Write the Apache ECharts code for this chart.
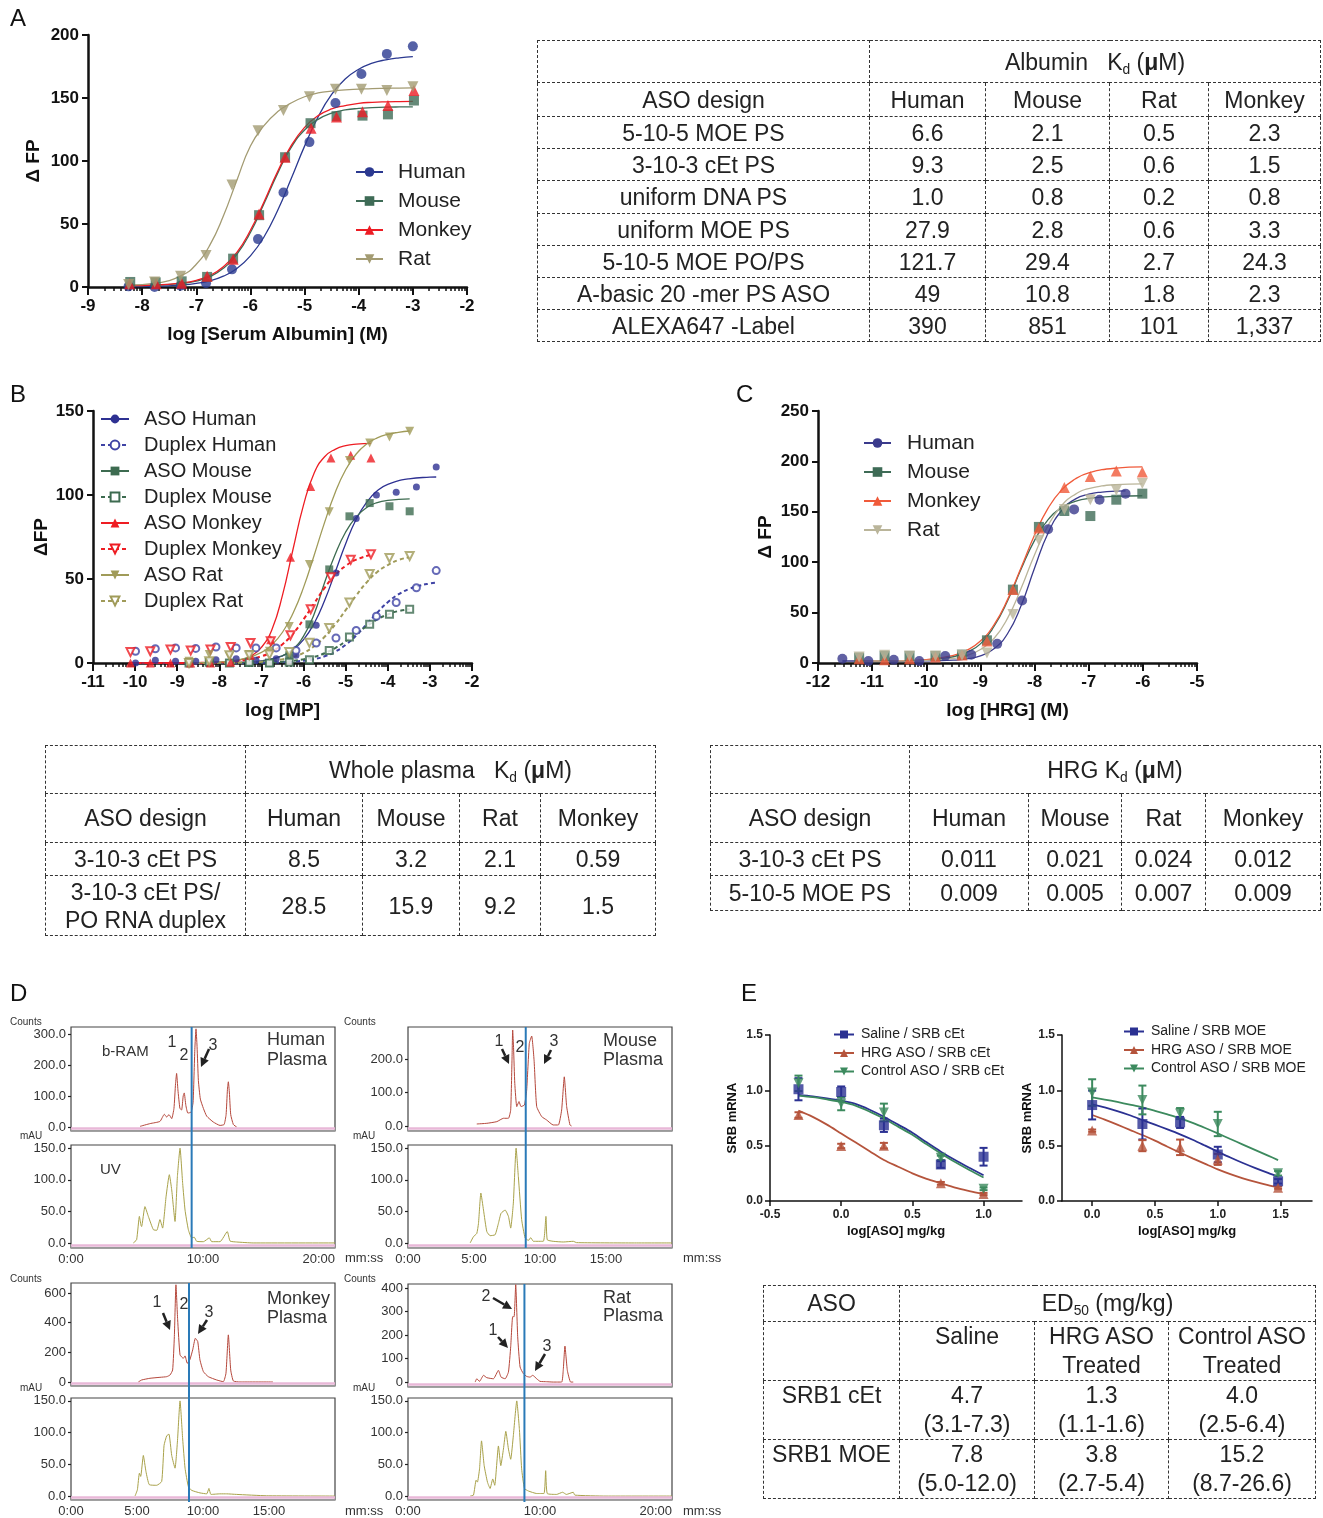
<!DOCTYPE html>
<html><head><meta charset="utf-8">
<script src="https://cdn.jsdelivr.net/npm/echarts@6/dist/echarts.min.js"></script>
<style>
html,body{margin:0;padding:0;background:#fff;}
#chart{position:absolute;left:0;top:0;width:1323px;height:1518px;}
table.t{position:absolute;border-collapse:collapse;table-layout:fixed;font-family:'Liberation Sans',Arial,Helvetica,sans-serif;font-size:23px;color:#222;}
table.t td{border:1px dashed #333;text-align:center;vertical-align:middle;padding:0;line-height:28px;white-space:nowrap;}
table.t sub{font-size:0.6em;vertical-align:-0.3em;line-height:0;}
table.e td{line-height:29px;}
</style></head><body>
<div id="chart"></div>
<div id="tables"></div>
<script>
const FONT = "'Liberation Sans', Arial, Helvetica, sans-serif";

// ================= Panel A : serum albumin =================
const A_curveX = [-8.25,-7.75,-7.25,-7.0,-6.75,-6.5,-6.25,-6.0,-5.75,-5.5,-5.25,-5.0,-4.75,-4.5,-4.25,-4.0,-3.75,-3.5,-3.25,-3.0];
const A_humanCurve  = [0.2,0.5,1.6,2.8,4.9,8.6,14.7,24.7,39.7,60.5,85.7,111.8,135,152.8,165,172.8,177.6,180.3,181.9,182.8];
const A_mouseCurve  = [1.1,1.5,2.9,4.7,8.2,14.8,26,43.3,66,90,110.6,124.6,133,138,140.5,141.7,142.3,142.7,142.9,143];
const A_monkeyCurve = [1.2,1.6,3.3,5.3,9.1,16.1,27.4,45,67.5,91.4,112,126.7,136,141.3,144,145.8,146.6,147,147.2,147.3];
const A_ratCurve    = [1.5,3.0,9.6,18.1,33.2,56.3,84.8,111.9,128,139,146,151,154,155.5,156.5,157,157.5,157.7,157.9,158];
const A_humanPts  = [[-8.25,0.5],[-7.77,0],[-7.29,1],[-6.82,3],[-6.34,14],[-5.86,38],[-5.39,75],[-4.91,115],[-4.43,146],[-3.95,169],[-3.48,185],[-3.0,191]];
const A_mousePts  = [[-8.22,4],[-7.75,3.7],[-7.27,4.5],[-6.8,8],[-6.32,22.5],[-5.84,57],[-5.36,103],[-4.89,130],[-4.41,135.6],[-3.93,136],[-3.46,137],[-2.98,148]];
const A_monkeyPts = [[-8.23,2.6],[-7.74,2.6],[-7.27,3],[-6.8,8.5],[-6.32,22],[-5.84,58],[-5.36,103],[-4.88,126],[-4.41,135],[-3.93,139],[-3.46,144],[-2.98,156]];
const A_ratPts    = [[-8.25,2],[-7.77,4],[-7.29,8.5],[-6.82,25],[-6.34,81],[-5.86,124],[-5.39,140],[-4.91,151],[-4.43,157],[-3.95,157],[-3.48,156],[-3.0,159]];

// ================= Panel B : whole plasma =================
const B_asoHumanCurve  = [[-10,0],[-9,0],[-8,0.1],[-7.5,0.35],[-7,1.2],[-6.5,4.3],[-6.25,7.8],[-6,13.9],[-5.75,23.5],[-5.5,37.2],[-5.25,54],[-5,71],[-4.75,85.6],[-4.5,95.8],[-4.25,102.5],[-4,106.3],[-3.5,109.6],[-3,110.6],[-2.85,110.7]];
const B_dupHumanCurve  = [[-10,0],[-8,0],[-7,0.14],[-6.5,0.43],[-6,1.34],[-5.75,2.3],[-5.5,4],[-5.25,6.7],[-5,10.8],[-4.75,16.3],[-4.5,23.1],[-4.25,30],[-4,36.2],[-3.75,40.8],[-3.5,44],[-3.25,46],[-3,47.3],[-2.85,47.8]];
const B_asoMouseCurve  = [[-8.72,0],[-8,0.05],[-7.5,0.22],[-7,1],[-6.75,2.1],[-6.5,4.3],[-6.25,8.4],[-6,16],[-5.75,29],[-5.5,47.9],[-5.25,64.6],[-5,78],[-4.75,87],[-4.5,92.6],[-4.25,95.5],[-4,96.8],[-3.48,97.7]];
const B_dupMouseCurve  = [[-8.72,0],[-8,0.03],[-7,0.26],[-6.5,0.77],[-6,2.2],[-5.75,3.6],[-5.5,5.8],[-5.25,8.9],[-5,12.9],[-4.75,17.4],[-4.5,21.9],[-4.25,25.9],[-4,28.9],[-3.75,30.9],[-3.48,32]];
const B_asoMonkeyCurve = [[-10.11,0],[-9,0],[-8,0.33],[-7.5,1.86],[-7.25,4.2],[-7,9.3],[-6.75,20],[-6.5,40.4],[-6.25,67.7],[-6,94.1],[-5.75,113],[-5.5,122.8],[-5.25,127.2],[-5,129.4],[-4.75,130.3],[-4.4,130.7]];
const B_dupMonkeyCurve = [[-10.11,0],[-9,0.02],[-8,0.42],[-7.5,1.3],[-7,4],[-6.75,6.8],[-6.5,11.2],[-6.25,17.5],[-6,26],[-5.75,35.4],[-5.5,44.7],[-5.25,52.3],[-5,57.8],[-4.75,61.5],[-4.4,64.4]];
const B_asoRatCurve    = [[-8.72,0.13],[-8,0.66],[-7.5,2.1],[-7,6.3],[-6.75,10.9],[-6.5,18.3],[-6.25,29.6],[-6,45],[-5.75,64],[-5.5,83.7],[-5.25,101.4],[-5,115],[-4.75,124.4],[-4.5,130.4],[-4.25,134],[-4,136.1],[-3.75,137.3],[-3.48,138.1]];
const B_dupRatCurve    = [[-8.72,0.02],[-8,0.09],[-7.5,0.26],[-7,0.77],[-6.5,2.2],[-6.25,3.7],[-6,6],[-5.75,10],[-5.5,15.6],[-5.25,22.9],[-5,31.5],[-4.75,40.2],[-4.5,48],[-4.25,54.2],[-4,58.3],[-3.75,61.3],[-3.48,63]];
const B_asoHumanPts  = [[-9.99,0],[-9.52,1.6],[-9.04,1],[-8.56,1],[-8.08,2],[-7.6,2.6],[-7.13,1.6],[-6.65,2.6],[-6.18,4.6],[-5.7,22.4],[-5.23,53.6],[-4.75,86],[-4.27,100],[-3.8,101.6],[-3.32,104.8],[-2.85,116.7]];
const B_dupHumanPts  = [[-9.99,7],[-9.52,8.5],[-9.04,9],[-8.56,8.7],[-8.08,9.5],[-7.6,9],[-7.13,9],[-6.65,9],[-6.18,7.5],[-5.7,11.9],[-5.23,14.9],[-4.75,19.4],[-4.27,27.8],[-3.8,36],[-3.32,44.8],[-2.85,55]];
const B_asoMousePts  = [[-8.72,0.5],[-8.24,0.5],[-7.76,0],[-7.29,0],[-6.81,0],[-6.34,4.6],[-5.86,23],[-5.39,55.7],[-4.91,87.3],[-4.43,95.2],[-3.96,93.3],[-3.48,90.3]];
const B_dupMousePts  = [[-8.72,0],[-8.24,0.5],[-7.76,0],[-7.29,0.5],[-6.81,0],[-6.34,0.5],[-5.86,2],[-5.39,7.5],[-4.91,15.5],[-4.43,23],[-3.96,29],[-3.48,32]];
const B_asoMonkeyPts = [[-10.11,0],[-9.64,0],[-9.16,0],[-8.68,0],[-8.21,0],[-7.73,0.5],[-7.26,4.6],[-6.78,13.9],[-6.31,63],[-5.83,105],[-5.35,122],[-4.88,123.6],[-4.4,122]];
const B_dupMonkeyPts = [[-10.11,6.5],[-9.64,7],[-9.16,8],[-8.68,7.5],[-8.21,8],[-7.73,9.5],[-7.26,11.9],[-6.78,13],[-6.31,16.5],[-5.83,32],[-5.35,51],[-4.88,61.5],[-4.4,64.7]];
const B_asoRatPts    = [[-8.72,1],[-8.24,5],[-7.76,4],[-7.29,5],[-6.81,7],[-6.34,21.8],[-5.86,58.7],[-5.39,90],[-4.91,120.6],[-4.43,131],[-3.96,134.5],[-3.48,138]];
const B_dupRatPts    = [[-8.72,0],[-8.24,1],[-7.76,4.6],[-7.29,4.6],[-6.81,5],[-6.34,6.5],[-5.86,12],[-5.39,20.8],[-4.91,36],[-4.43,53],[-3.96,62.5],[-3.48,63.7]];

// ================= Panel C : HRG =================
const C_humanCurve  = [[-11.55,2],[-10.5,2],[-10,2.1],[-9.5,2.8],[-9.25,4],[-9,7.1],[-8.75,14.1],[-8.5,29],[-8.25,56.7],[-8,94.3],[-7.75,129],[-7.5,151.3],[-7.25,162.6],[-7,167.5],[-6.75,169.6],[-6.5,170.5],[-6.32,170.8]];
const C_mouseCurve  = [[-11.24,2],[-10.5,2.2],[-10,2.9],[-9.5,6.2],[-9.25,10.8],[-9,19],[-8.75,36.2],[-8.5,61.6],[-8.25,92.9],[-8,121.7],[-7.75,142.2],[-7.5,154.1],[-7.25,160.3],[-7,163.3],[-6.5,165.4],[-6.01,165.9]];
const C_monkeyCurve = [[-11.24,2],[-10.5,2.35],[-10,3.4],[-9.5,7.6],[-9.25,12.7],[-9,21.8],[-8.75,37.9],[-8.5,62.9],[-8.25,94.5],[-8,126.9],[-7.75,153.6],[-7.5,171.8],[-7.25,182.5],[-7,188.6],[-6.5,193.3],[-6.01,194.5]];
const C_ratCurve    = [[-11.24,2],[-10.5,2.1],[-10,2.5],[-9.5,4.5],[-9.25,7.4],[-9,13.4],[-8.75,24.3],[-8.5,44.3],[-8.25,73.8],[-8,107.5],[-7.75,136.5],[-7.5,156.2],[-7.25,167.3],[-7,172.9],[-6.5,176.9],[-6.01,177.8]];
const C_humanPts  = [[-11.55,4.3],[-11.07,2],[-10.6,3.3],[-10.13,2],[-9.65,7],[-9.17,8.3],[-8.69,19],[-8.23,62],[-7.75,132.6],[-7.27,152.4],[-6.8,162],[-6.32,168]];
const C_mousePts  = [[-11.24,5.3],[-10.77,7],[-10.31,7],[-9.83,7],[-9.34,8.3],[-8.88,22.5],[-8.4,72.8],[-7.92,135],[-7.45,150.8],[-6.97,145.8],[-6.49,162],[-6.01,168]];
const C_monkeyPts = [[-11.24,4.3],[-10.77,3.3],[-10.31,4.3],[-9.83,6],[-9.34,8],[-8.88,21.8],[-8.4,73],[-7.92,134],[-7.45,174],[-6.97,185],[-6.49,190.5],[-6.01,189.5]];
const C_ratPts    = [[-11.24,6],[-10.77,7.6],[-10.31,7],[-9.83,7],[-9.34,7.6],[-8.88,10],[-8.4,48],[-7.92,121.7],[-7.45,152.4],[-6.97,162],[-6.49,171.3],[-6.01,178]];

// ================= Panel D : chromatograms (time min, signal) =================
const D_humanCounts = [[5.23,2],[6.0,11],[6.74,18],[7.07,41],[7.25,32],[7.42,40],[7.63,27],[7.8,60],[7.92,140],[8.0,173],[8.1,120],[8.25,60],[8.38,55],[8.5,100],[8.58,110],[8.7,70],[8.85,45],[9.1,48],[9.25,80],[9.38,250],[9.47,317],[9.55,260],[9.65,150],[9.8,90],[10.03,60],[10.28,35],[10.78,16],[11.29,5],[11.6,8],[11.75,40],[11.85,120],[11.92,146],[12.0,110],[12.1,40],[12.3,8],[12.55,0]];
const D_humanUV = [[4.72,0],[4.97,5],[5.18,42],[5.3,28],[5.35,26],[5.6,57.5],[5.86,42],[6.24,21],[6.5,20],[6.74,37],[6.94,23.5],[7.2,73],[7.45,108],[7.63,84],[7.88,34],[8.06,105],[8.26,150],[8.46,94],[8.64,52],[8.89,21],[9.14,8],[9.34,9],[9.52,2.6],[10.03,2],[10.48,8],[10.66,2],[11.29,2],[11.84,18],[12.05,3],[12.55,1.5],[13.8,0],[20,0]];
const D_mouseCounts = [[5.21,6],[5.97,8],[6.73,13],[7.23,23],[7.61,23],[7.78,48],[7.88,200],[7.93,287],[8.0,230],[8.09,127],[8.24,58],[8.41,73],[8.56,58],[8.82,63],[8.99,107],[9.19,247],[9.37,269],[9.55,197],[9.75,58],[10.13,28],[10.5,18],[11.0,3],[11.39,3],[11.64,48],[11.84,147],[12.02,58],[12.27,3],[12.39,0]];
const D_mouseUV = [[4.71,0],[4.96,10],[5.21,15],[5.34,31],[5.52,79],[5.72,52],[5.97,18],[6.22,11.5],[6.6,13],[6.85,31],[7.05,47],[7.36,52],[7.61,42],[7.78,23.5],[7.98,63],[8.19,150],[8.36,105],[8.61,37],[8.87,8],[9.12,4],[9.3,8.4],[9.5,2.6],[10.25,2.6],[10.45,42],[10.55,5],[11.0,2.6],[11.76,1.5],[12.52,2.6],[12.77,0.5],[17.05,0],[20,0]];
const D_monkeyCounts = [[5.1,0],[5.35,13.5],[5.98,25],[6.74,31.6],[7.25,36],[7.5,47],[7.7,81],[7.83,307],[7.95,656],[8.08,420],[8.26,183],[8.51,160],[8.64,176],[8.81,126],[9.0,149],[9.22,217],[9.42,295],[9.6,273],[9.77,149],[10.03,70],[10.4,36],[11.04,13.5],[11.54,2],[11.74,59],[11.92,318],[12.1,81],[12.3,7],[12.8,0],[15.3,0]];
const D_monkeyUV = [[4.85,0],[5.03,10],[5.18,36],[5.28,31],[5.48,64],[5.68,38.5],[5.93,18],[6.49,17],[6.87,23],[7.05,80],[7.25,95],[7.42,97.6],[7.63,64],[7.88,44],[8.06,85],[8.26,150],[8.46,90],[8.64,44],[8.89,15],[9.14,9],[9.77,5],[10.28,3.5],[10.45,12],[10.6,2.6],[11.29,3.5],[11.79,3.5],[12.55,2.6],[14.8,0.5],[20,0]];
const D_ratCounts = [[5.09,0],[5.21,14],[5.42,3],[5.72,28.6],[5.97,18.6],[6.47,14],[6.85,50],[7.05,21],[7.36,14],[7.61,43],[7.78,150],[7.93,278],[8.04,278],[8.16,414],[8.31,193],[8.49,64],[8.74,36],[8.99,24],[9.24,21],[9.45,28.6],[9.75,14],[10.0,3],[10.5,1.5],[11.0,0],[11.64,0],[11.76,50],[11.89,153],[12.07,50],[12.32,0],[12.52,0]];
const D_ratUV = [[4.71,0],[4.96,1.5],[5.16,25],[5.26,22],[5.42,43],[5.57,87],[5.77,48],[6.02,22],[6.22,12],[6.42,27],[6.57,17],[6.85,79],[7.03,48],[7.23,74],[7.41,102],[7.61,74],[7.78,58],[7.98,95],[8.24,150],[8.44,105],[8.61,43],[8.82,12],[9.12,8],[9.75,4],[10.3,4],[10.43,40],[10.55,4],[11.26,2.6],[11.71,6],[12.0,2.6],[12.52,6],[12.64,1.5],[15.0,0],[20,0]];
const D_blueLineTime = [9.14, 8.92, 8.94, 8.82]; // human, mouse, monkey, rat
const D_countTicks = [[0,100,200,300],[0,100,200],[0,200,400,600],[0,100,200,300,400]];
const D_uvTicks = [0,50,100,150];
const D_timeLabels = [[0,10,20],[0,5,10,15],[0,5,10,15],[0,10,20]];

// ================= Panel E : SRB mRNA =================
const E1_x = [-0.3,0,0.3,0.7,1.0];
const E1_saline = [1.01,0.985,0.684,0.33,0.40],  E1_salineErr = [0.1,0.05,0.06,0.03,0.08];
const E1_hrg = [0.777,0.497,0.5,0.16,0.063],     E1_hrgErr = [0.025,0.02,0.025,0.012,0.01];
const E1_ctrl = [1.063,0.88,0.80,0.39,0.11],     E1_ctrlErr = [0.07,0.06,0.08,0.02,0.012];
const E1_curveX = [-0.3,-0.2,-0.1,0,0.1,0.2,0.3,0.4,0.5,0.6,0.7,0.8,0.9,1.0];
const E1_salineCurve = [0.958,0.945,0.928,0.907,0.877,0.825,0.762,0.69,0.617,0.53,0.446,0.37,0.30,0.232];
const E1_ctrlCurve = [0.952,0.938,0.918,0.895,0.862,0.808,0.745,0.672,0.598,0.512,0.43,0.352,0.28,0.212];
const E1_hrgCurve = [0.816,0.76,0.69,0.61,0.53,0.45,0.37,0.31,0.25,0.20,0.16,0.12,0.09,0.063];
const E2_x = [0,0.4,0.7,1.0,1.48];
const E2_saline = [0.867,0.696,0.71,0.42,0.178], E2_salineErr = [0.13,0.14,0.05,0.07,0.02];
const E2_hrg = [0.636,0.5,0.485,0.376,0.12],     E2_hrgErr = [0.01,0.05,0.07,0.05,0.01];
const E2_ctrl = [0.98,0.913,0.79,0.696,0.25],    E2_ctrlErr = [0.12,0.13,0.05,0.11,0.02];
const E2_curveX = [0,0.1,0.2,0.3,0.4,0.5,0.6,0.7,0.8,0.9,1.0,1.1,1.2,1.3,1.4,1.48];
const E2_salineCurve = [0.873,0.845,0.812,0.775,0.732,0.69,0.647,0.602,0.553,0.5,0.446,0.393,0.343,0.297,0.254,0.222];
const E2_hrgCurve = [0.777,0.735,0.69,0.643,0.596,0.545,0.49,0.437,0.385,0.335,0.286,0.243,0.205,0.172,0.143,0.122];
const E2_ctrlCurve = [0.937,0.917,0.895,0.871,0.846,0.815,0.782,0.747,0.706,0.66,0.611,0.56,0.51,0.46,0.41,0.37];

// ================= Tables =================
const speciesCols = ['Human','Mouse','Rat','Monkey'];
const albuminDesigns = ['5-10-5 MOE PS','3-10-3 cEt PS','uniform DNA PS','uniform MOE PS','5-10-5 MOE PO/PS','A-basic 20 -mer PS ASO','ALEXA647 -Label'];
const albuminKd = [['6.6','2.1','0.5','2.3'],['9.3','2.5','0.6','1.5'],['1.0','0.8','0.2','0.8'],['27.9','2.8','0.6','3.3'],['121.7','29.4','2.7','24.3'],['49','10.8','1.8','2.3'],['390','851','101','1,337']];
const plasmaDesigns = ['3-10-3 cEt PS','3-10-3 cEt PS/<br>PO RNA duplex'];
const plasmaKd = [['8.5','3.2','2.1','0.59'],['28.5','15.9','9.2','1.5']];
const hrgDesigns = ['3-10-3 cEt PS','5-10-5 MOE PS'];
const hrgKd = [['0.011','0.021','0.024','0.012'],['0.009','0.005','0.007','0.009']];
const ed50Groups = ['Saline','HRG ASO<br>Treated','Control ASO<br>Treated'];
const ed50Rows = ['SRB1 cEt','SRB1 MOE'];
const ed50Vals = [[['4.7','(3.1-7.3)'],['1.3','(1.1-1.6)'],['4.0','(2.5-6.4)']],[['7.8','(5.0-12.0)'],['3.8','(2.7-5.4)'],['15.2','(8.7-26.6)']]];

// ---------- build tables ----------
function kdTable(left, top, colW, rowH, title, designs, vals, cls) {
  let h = `<table class="t ${cls||''}" style="left:${left}px;top:${top}px;width:${colW.reduce((a,b)=>a+b,0)}px"><colgroup>`;
  colW.forEach(w => h += `<col style="width:${w}px">`);
  h += `</colgroup><tr style="height:${rowH[0]}px"><td></td><td colspan="4">${title}</td></tr>`;
  h += `<tr style="height:${rowH[1]}px"><td>ASO design</td>` + speciesCols.map(s=>`<td>${s}</td>`).join('') + `</tr>`;
  designs.forEach((d,i) => { h += `<tr style="height:${rowH[i+2]}px"><td>${d}</td>` + vals[i].map(v=>`<td>${v}</td>`).join('') + `</tr>`; });
  return h + '</table>';
}
const KD = 'K<sub>d</sub> (<b>&mu;</b>M)';
let tablesHTML = '';
tablesHTML += kdTable(537, 40, [332,116,124,99,112], [42,34,32,32,33,32,32,32,32], 'Albumin&nbsp;&nbsp; ' + KD, albuminDesigns, albuminKd);
tablesHTML += kdTable(45, 745, [200,117,97,81,115], [48,49,33,60], 'Whole plasma&nbsp;&nbsp; ' + KD, plasmaDesigns, plasmaKd);
tablesHTML += kdTable(710, 745, [199,119,93,84,115], [48,49,33,35], 'HRG ' + KD, hrgDesigns, hrgKd);
{
  let h = `<table class="t e" style="left:763px;top:1285px;width:552px"><colgroup><col style="width:136px"><col style="width:135px"><col style="width:134px"><col style="width:147px"></colgroup>`;
  h += `<tr style="height:36px"><td>ASO</td><td colspan="3">ED<sub>50</sub> (mg/kg)</td></tr>`;
  h += `<tr style="height:59px"><td style="vertical-align:top"></td>` + ed50Groups.map(g=>`<td style="vertical-align:top">${g}</td>`).join('') + `</tr>`;
  ed50Rows.forEach((r,i) => {
    h += `<tr style="height:${i===0?58:59}px"><td style="vertical-align:top">${r}</td>` + ed50Vals[i].map(v=>`<td style="vertical-align:top">${v[0]}<br>${v[1]}</td>`).join('') + `</tr>`;
  });
  tablesHTML += h + '</table>';
}
document.getElementById('tables').innerHTML = tablesHTML;

// ---------- chart building ----------
const grids=[], xAxes=[], yAxes=[], series=[], legends=[], graphics=[];
const addGrid = g => { grids.push(g); return grids.length-1; };
const addX = o => { xAxes.push(o); return xAxes.length-1; };
const addY = o => { yAxes.push(o); return yAxes.length-1; };
const zip = (xs, ys) => xs.map((x,i)=>[x, ys[i]]);
const boldLbl = (size) => ({fontFamily:FONT, fontWeight:'bold', fontSize:size, color:'#111'});

function logPanel(c) {
  const gi = addGrid({left:c.left, top:c.top, width:c.width, height:c.height});
  const xi = addX({gridIndex:gi, type:'value', min:c.xmin, max:c.xmax, interval:1, position:'bottom',
    axisLine:{show:true, onZero:false, lineStyle:{color:'#111', width:2.5}},
    axisTick:{show:true, length:8, lineStyle:{color:'#111', width:2}},
    axisLabel:Object.assign(boldLbl(17), {margin:11}), splitLine:{show:false},
    name:c.xname, nameLocation:'middle', nameGap:38, nameTextStyle:boldLbl(19)});
  const minor = [];
  for (let d=c.xmin; d<c.xmax; d++) for (let k=2;k<=9;k++) minor.push(d+Math.log10(k));
  addX({gridIndex:gi, type:'value', min:c.xmin, max:c.xmax, position:'bottom', axisLine:{show:false},
    axisLabel:{show:false}, splitLine:{show:false},
    axisTick:{show:true, length:4, customValues:minor, lineStyle:{color:'#111', width:1.5}}});
  const yi = addY({gridIndex:gi, type:'value', min:0, max:c.ymax, interval:c.yint,
    axisLine:{show:true, onZero:false, lineStyle:{color:'#111', width:2.5}},
    axisTick:{show:true, length:6, lineStyle:{color:'#111', width:2}},
    axisLabel:Object.assign(boldLbl(17), {margin:9}), splitLine:{show:false},
    name:c.yname, nameLocation:'middle', nameGap:c.yGap, nameTextStyle:boldLbl(19)});
  return {xi, yi};
}
function fit(p, s) {
  series.push({type:'line', name:s.name, xAxisIndex:p.xi, yAxisIndex:p.yi, data:s.curve, showSymbol:false,
    symbol:s.symbol, symbolSize:s.size, symbolRotate:s.rot||0, smooth:0.5, silent:true,
    lineStyle:{color:s.color, width:s.lw||1.3, type:s.dash?[4,3]:'solid'}, itemStyle:{color:s.color}, z:2});
  series.push({type:'scatter', name:s.name+' (data)', xAxisIndex:p.xi, yAxisIndex:p.yi, data:s.pts,
    symbol:s.symbol, symbolSize:s.size, symbolRotate:s.rot||0, itemStyle:{color:s.color}, z:3, silent:true});
}
function legend(names, left, top, fs, lh, gap, iw, ih, pad) {
  legends.push({data:names, orient:'vertical', left, top, padding:0, itemGap:gap, itemWidth:iw, itemHeight:ih,
    selectedMode:false, textStyle:{fontFamily:FONT, fontSize:fs, lineHeight:lh, color:'#222', padding:[0,0,0,pad]}});
}

// Panel A
const pA = logPanel({left:88, top:35, width:379, height:252, xmin:-9, xmax:-2, ymax:200, yint:50, xname:'log [Serum Albumin] (M)', yname:'Δ FP', yGap:45});
fit(pA, {name:'Human', color:'#2b3990', symbol:'circle', size:10, curve:zip(A_curveX,A_humanCurve), pts:A_humanPts});
fit(pA, {name:'Mouse', color:'#3e6b56', symbol:'rect', size:10, curve:zip(A_curveX,A_mouseCurve), pts:A_mousePts});
fit(pA, {name:'Monkey', color:'#ed1c24', symbol:'triangle', size:11, curve:zip(A_curveX,A_monkeyCurve), pts:A_monkeyPts});
fit(pA, {name:'Rat', color:'#a39b72', symbol:'triangle', rot:180, size:11, curve:zip(A_curveX,A_ratCurve), pts:A_ratPts});
legend(['Human','Mouse','Monkey','Rat'], 355, 161, 21, 22, 7, 27, 12, 10);

// Panel B
const pB = logPanel({left:93, top:411, width:379, height:252, xmin:-11, xmax:-2, ymax:150, yint:50, xname:'log [MP]', yname:'ΔFP', yGap:39});
const navy='#2e3192', grn='#3d6b50', red='#ee1d23', olv='#a09b59';
fit(pB, {name:'ASO Human', color:navy, symbol:'circle', size:7, curve:B_asoHumanCurve, pts:B_asoHumanPts});
fit(pB, {name:'Duplex Human', color:'#3f43a5', symbol:'emptyCircle', size:7, dash:true, lw:2, curve:B_dupHumanCurve, pts:B_dupHumanPts});
fit(pB, {name:'ASO Mouse', color:grn, symbol:'rect', size:8, curve:B_asoMouseCurve, pts:B_asoMousePts});
fit(pB, {name:'Duplex Mouse', color:grn, symbol:'emptyRect', size:7, dash:true, lw:2, curve:B_dupMouseCurve, pts:B_dupMousePts});
fit(pB, {name:'ASO Monkey', color:red, symbol:'triangle', size:9, curve:B_asoMonkeyCurve, pts:B_asoMonkeyPts});
fit(pB, {name:'Duplex Monkey', color:red, symbol:'emptyTriangle', rot:180, size:8, dash:true, lw:2, curve:B_dupMonkeyCurve, pts:B_dupMonkeyPts});
fit(pB, {name:'ASO Rat', color:olv, symbol:'triangle', rot:180, size:9, curve:B_asoRatCurve, pts:B_asoRatPts});
fit(pB, {name:'Duplex Rat', color:olv, symbol:'emptyTriangle', rot:180, size:8, dash:true, lw:2, curve:B_dupRatCurve, pts:B_dupRatPts});
legend(['ASO Human','Duplex Human','ASO Mouse','Duplex Mouse','ASO Monkey','Duplex Monkey','ASO Rat','Duplex Rat'], 100, 409, 20, 20, 6, 28, 11, 10);

// Panel C
const pC = logPanel({left:818, top:411, width:379, height:252, xmin:-12, xmax:-5, ymax:250, yint:50, xname:'log [HRG] (M)', yname:'Δ FP', yGap:43});
fit(pC, {name:'Human ', color:'#3a3a8c', symbol:'circle', size:10, curve:C_humanCurve, pts:C_humanPts});
fit(pC, {name:'Mouse ', color:'#3e6b56', symbol:'rect', size:10, curve:C_mouseCurve, pts:C_mousePts});
fit(pC, {name:'Monkey ', color:'#f05a3a', symbol:'triangle', size:11, curve:C_monkeyCurve, pts:C_monkeyPts});
fit(pC, {name:'Rat ', color:'#bab59a', symbol:'triangle', rot:180, size:11, curve:C_ratCurve, pts:C_ratPts});
legend(['Human ','Mouse ','Monkey ','Rat '], 863, 432, 21, 22, 7, 27, 12, 11);

// Panel E
function ePanel(c) {
  const gi = addGrid({left:c.left, top:1035, width:c.width, height:166});
  const xi = addX({gridIndex:gi, type:'value', min:c.xmin, max:c.xmax,
    axisLine:{show:true, onZero:false, lineStyle:{color:'#111', width:1.5}},
    axisTick:{show:true, length:5, customValues:c.ticks, lineStyle:{color:'#111', width:1.5}},
    axisLabel:Object.assign(boldLbl(12), {customValues:c.ticks, formatter:v=>v.toFixed(1), margin:8, color:'#222'}),
    splitLine:{show:false}, name:'log[ASO] mg/kg', nameLocation:'middle', nameGap:24, nameTextStyle:boldLbl(13)});
  const yi = addY({gridIndex:gi, type:'value', min:0, max:1.5, interval:0.5,
    axisLine:{show:true, onZero:false, lineStyle:{color:'#111', width:1.5}},
    axisTick:{show:true, length:5, lineStyle:{color:'#111', width:1.5}},
    axisLabel:Object.assign(boldLbl(12), {formatter:v=>v.toFixed(1), margin:7, color:'#222'}),
    splitLine:{show:false}, name:'SRB mRNA', nameLocation:'middle', nameGap:c.yGap, nameTextStyle:boldLbl(13)});
  return {xi, yi};
}
function eSeries(p, name, color, symbol, rot, xs, means, errs, cx, cy) {
  series.push({type:'line', name, xAxisIndex:p.xi, yAxisIndex:p.yi, data:zip(cx,cy), showSymbol:false, symbol, symbolRotate:rot,
    smooth:0.3, silent:true, lineStyle:{color, width:1.8}, itemStyle:{color}, z:2});
  series.push({type:'custom', name:name+' (sem)', xAxisIndex:p.xi, yAxisIndex:p.yi, z:3, silent:true,
    data: xs.map((x,i)=>[x, means[i]-errs[i], means[i]+errs[i]]), encode:{x:0, y:[1,2]},
    renderItem:(params, api)=>{
      const x=api.value(0), lo=api.coord([x, api.value(1)]), hi=api.coord([x, api.value(2)]), w=4;
      const st={stroke:color, lineWidth:2};
      return {type:'group', children:[
        {type:'line', shape:{x1:lo[0],y1:lo[1],x2:hi[0],y2:hi[1]}, style:st},
        {type:'line', shape:{x1:lo[0]-w,y1:lo[1],x2:lo[0]+w,y2:lo[1]}, style:st},
        {type:'line', shape:{x1:hi[0]-w,y1:hi[1],x2:hi[0]+w,y2:hi[1]}, style:st}]};
    }});
  series.push({type:'scatter', name:name+' (data)', xAxisIndex:p.xi, yAxisIndex:p.yi, data:zip(xs,means), symbol, symbolRotate:rot,
    symbolSize:10, itemStyle:{color}, z:4, silent:true});
}
const cSal='#2b3192', cHrg='#b5543c', cCtl='#3c8a5e';
const pE1 = ePanel({left:770, width:252, xmin:-0.5, xmax:1.27, ticks:[-0.5,0,0.5,1], yGap:31});
eSeries(pE1, 'Saline / SRB cEt', cSal, 'rect', 0, E1_x, E1_saline, E1_salineErr, E1_curveX, E1_salineCurve);
eSeries(pE1, 'HRG ASO / SRB cEt', cHrg, 'triangle', 0, E1_x, E1_hrg, E1_hrgErr, E1_curveX, E1_hrgCurve);
eSeries(pE1, 'Control ASO / SRB cEt', cCtl, 'triangle', 180, E1_x, E1_ctrl, E1_ctrlErr, E1_curveX, E1_ctrlCurve);
legend(['Saline / SRB cEt','HRG ASO / SRB cEt','Control ASO / SRB cEt'], 833, 1027, 14, 15, 3.5, 20, 10, 2);
const pE2 = ePanel({left:1062, width:250, xmin:-0.24, xmax:1.75, ticks:[0,0.5,1,1.5], yGap:26});
eSeries(pE2, 'Saline / SRB MOE', cSal, 'rect', 0, E2_x, E2_saline, E2_salineErr, E2_curveX, E2_salineCurve);
eSeries(pE2, 'HRG ASO / SRB MOE', cHrg, 'triangle', 0, E2_x, E2_hrg, E2_hrgErr, E2_curveX, E2_hrgCurve);
eSeries(pE2, 'Control ASO / SRB MOE', cCtl, 'triangle', 180, E2_x, E2_ctrl, E2_ctrlErr, E2_curveX, E2_ctrlCurve);
legend(['Saline / SRB MOE','HRG ASO / SRB MOE','Control ASO / SRB MOE'], 1123, 1024, 14, 15, 3.5, 20, 10, 2);

// Panel D
function chromPanel(c, k) {
  const W = 264;
  const gC = addGrid({left:c.left, top:c.topC, width:W, height:c.hC, show:true, borderColor:'#444', borderWidth:1.2});
  const gU = addGrid({left:c.left, top:c.topU, width:W, height:c.hU, show:true, borderColor:'#444', borderWidth:1.2});
  const gB = addGrid({left:c.left, top:c.topC, width:W, height:c.topU + c.hU - c.topC});
  const tx = (gi, labels) => addX({gridIndex:gi, type:'value', min:0, max:20, axisLine:{show:false}, axisTick:{show:false}, splitLine:{show:false},
    axisLabel: labels ? {show:true, customValues:labels, formatter:v=>v+':00', fontFamily:FONT, fontSize:13, color:'#333', margin:5,
      alignMaxLabel: labels.indexOf(20)>=0 ? 'right' : null} : {show:false}});
  const vy = (gi, min, max, ticks, dec) => addY({gridIndex:gi, type:'value', min, max, axisLine:{show:false}, splitLine:{show:false},
    axisTick:{show:true, length:3, customValues:ticks, lineStyle:{color:'#222', width:1.2}},
    axisLabel:{show:true, customValues:ticks, formatter:v=>v.toFixed(dec), fontFamily:FONT, fontSize:13, color:'#333', margin:5}});
  const xC = tx(gC, null), yC = vy(gC, c.cMin, c.cMax, D_countTicks[k], c.cDec);
  const xU = tx(gU, D_timeLabels[k]), yU = vy(gU, c.uMin, c.uMax, D_uvTicks, 1);
  const xB = addX({gridIndex:gB, type:'value', min:0, max:20, show:false});
  const yB = addY({gridIndex:gB, type:'value', min:0, max:1, show:false});
  const base = (p, g) => ({silent:true, symbol:'none', label:{show:false}, animation:false,
    data:[{yAxis:p, lineStyle:{color:'#e9b8d8', width:2.5, type:'solid'}}, {yAxis:g, lineStyle:{color:'#9a9a9a', width:1, type:'solid'}}]});
  series.push({type:'line', name:'counts'+k, xAxisIndex:xC, yAxisIndex:yC, data:c.counts, showSymbol:false, smooth:0.15, silent:true,
    lineStyle:{color:'#b5473b', width:1}, markLine:base(c.cPink, c.cGrey), z:2});
  series.push({type:'line', name:'uv'+k, xAxisIndex:xU, yAxisIndex:yU, data:c.uv, showSymbol:false, smooth:0.15, silent:true,
    lineStyle:{color:'#a9a24a', width:1}, markLine:base(c.uPink, c.uGrey), z:2});
  series.push({type:'line', name:'marker'+k, xAxisIndex:xB, yAxisIndex:yB, data:[[D_blueLineTime[k],0],[D_blueLineTime[k],1]],
    showSymbol:false, silent:true, lineStyle:{color:'#2a7ab8', width:2}, z:5});
}
chromPanel({left:71, topC:1027, hC:104, topU:1145, hU:103, cMin:-13, cMax:323, cDec:1, uMin:-8, uMax:155, counts:D_humanCounts, uv:D_humanUV, cPink:-3, cGrey:-9, uPink:-3, uGrey:-6.3}, 0);
chromPanel({left:408, topC:1027, hC:104, topU:1145, hU:103, cMin:-15, cMax:296, cDec:1, uMin:-8, uMax:155, counts:D_mouseCounts, uv:D_mouseUV, cPink:-6, cGrey:-12, uPink:-3, uGrey:-6.3}, 1);
chromPanel({left:71, topC:1283, hC:103, topU:1398, hU:104, cMin:-27, cMax:668, cDec:0, uMin:-6.2, uMax:154.6, counts:D_monkeyCounts, uv:D_monkeyUV, cPink:-10, cGrey:-20, uPink:-2.3, uGrey:-4.6}, 2);
chromPanel({left:408, topC:1284, hC:103, topU:1398, hU:104, cMin:-21, cMax:417, cDec:0, uMin:-6.2, uMax:154.6, counts:D_ratCounts, uv:D_ratUV, cPink:-8.5, cGrey:-17, uPink:-2.3, uGrey:-4.6}, 3);

// annotations
function txt(t, x, y, size, opt) {
  graphics.push({type:'text', x, y, silent:true, style:Object.assign({text:t, fontFamily:FONT, fontSize:size, fill:'#222', align:'left', verticalAlign:'middle'}, opt||{})});
}
function arrow(x1, y1, x2, y2) {
  const a = Math.atan2(y2-y1, x2-x1), L = 9, H = 4.5;
  const bx = x2 - L*Math.cos(a), by = y2 - L*Math.sin(a);
  graphics.push({type:'line', silent:true, shape:{x1, y1, x2:bx, y2:by}, style:{stroke:'#222', lineWidth:2.5}});
  graphics.push({type:'polygon', silent:true, shape:{points:[[x2,y2],[bx + H*Math.sin(a), by - H*Math.cos(a)],[bx - H*Math.sin(a), by + H*Math.cos(a)]]}, style:{fill:'#222'}});
}
[['A',10,19],['B',10,395],['C',736,395],['D',10,994],['E',741,994]].forEach(l => txt(l[0], l[1], l[2], 24, {fill:'#111'}));
[[10,1022],[344,1022],[10,1279],[344,1279]].forEach(p => txt('Counts', p[0], p[1], 10, {fill:'#333'}));
[[20,1136],[353,1136],[20,1388],[353,1388]].forEach(p => txt('mAU', p[0], p[1], 10, {fill:'#333'}));
[[345,1258],[683,1258],[345,1511],[683,1511]].forEach(p => txt('mm:ss', p[0], p[1], 13, {fill:'#333'}));
txt('b-RAM', 102, 1052, 15, {fill:'#333'}); txt('UV', 100, 1170, 15, {fill:'#333'});
[['Human',267,1040],['Plasma',267,1060],['Mouse',603,1041],['Plasma',603,1060],['Monkey',267,1299],['Plasma',267,1318],['Rat',603,1298],['Plasma',603,1316]]
  .forEach(l => txt(l[0], l[1], l[2], 18, {fill:'#333'}));
[['1',172,1043],['2',184,1056],['3',213,1046],['1',499,1042],['2',520,1048],['3',554,1042],['1',157,1303],['2',184,1305],['3',209,1313],['2',486,1297],['1',493,1331],['3',547,1347]]
  .forEach(l => txt(l[0], l[1], l[2], 16, {align:'center', fill:'#333'}));
[[209,1049,201,1067],[502,1049,509,1064],[551,1050,544,1064],[163,1313,170,1330],[207,1320,198,1334],[493,1298,512,1309],[498,1337,508,1348],[545,1354,535,1371]]
  .forEach(a => arrow(a[0], a[1], a[2], a[3]));

const chart = echarts.init(document.getElementById('chart'), null, {renderer:'canvas'});
chart.setOption({animation:false, backgroundColor:'#fff', grid:grids, xAxis:xAxes, yAxis:yAxes, series, legend:legends, graphic:graphics});
</script></body></html>
